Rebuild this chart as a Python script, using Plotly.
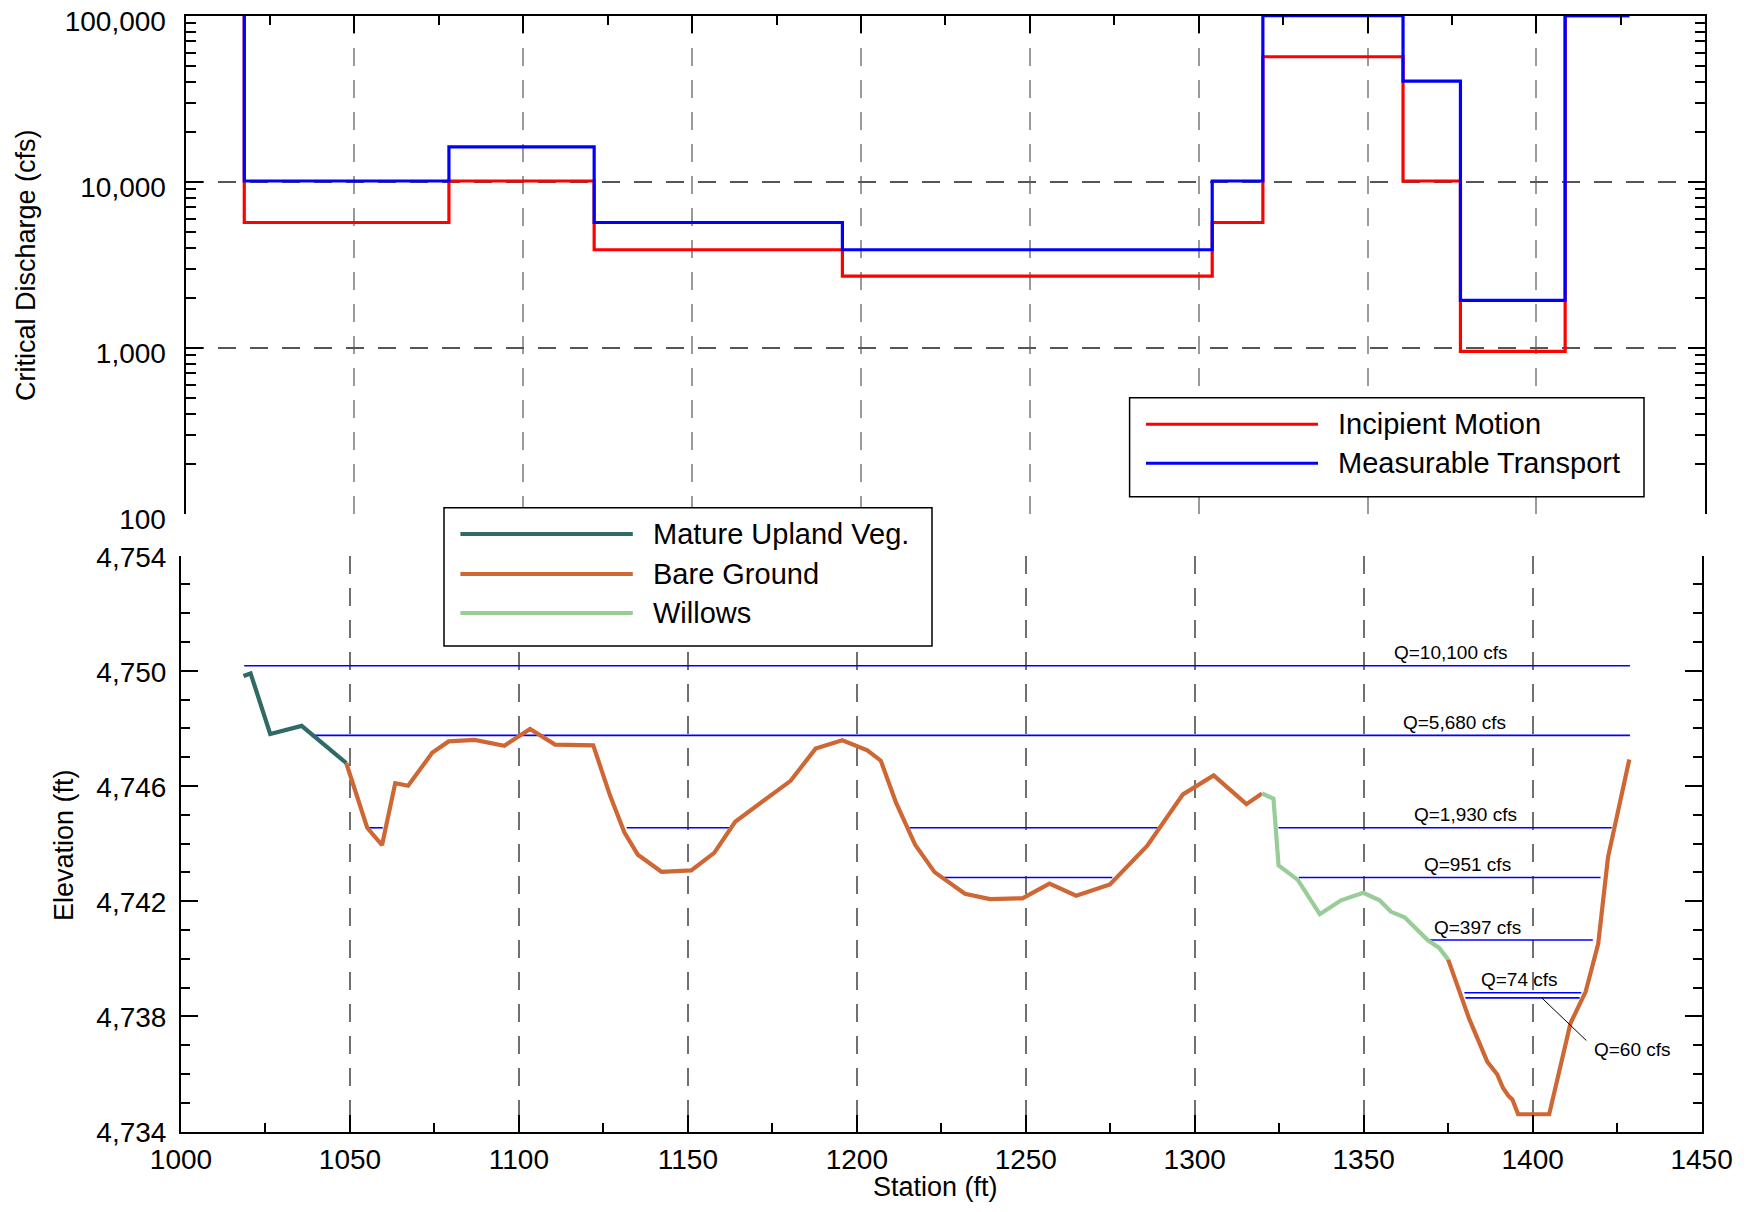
import plotly.graph_objects as go

# ---------------- DATA ----------------
# Top panel: critical discharge steps along station
step_edges = [1017.4, 1078.0, 1121.0, 1194.5, 1304.0, 1319.0, 1360.5, 1377.5, 1408.5, 1427.5]
step_start_q = 100000
incipient_q = [5680, 10100, 3890, 2700, 5680, 56600, 10100, 951, 100000]
measurable_q = [10100, 16200, 5680, 3890, 10100, 100000, 40400, 1930, 100000]

# Bottom panel: ground profile by cover type
upland_x = [1018.5, 1020.6, 1026.4, 1035.7, 1048.9]
upland_y = [4749.82, 4749.91, 4747.81, 4748.09, 4746.80]

bare1_x = [1048.9, 1055.1, 1059.5, 1063.4, 1067.2, 1074.4, 1079.2, 1086.9, 1095.7, 1103.3,
           1110.7, 1122.0, 1127.0, 1131.2, 1135.2, 1142.2, 1151.0, 1157.8, 1164.0, 1180.4,
           1187.8, 1195.7, 1203.1, 1207.1, 1211.6, 1217.3, 1223.0, 1232.0, 1239.4, 1249.0,
           1257.0, 1264.9, 1274.9, 1285.9, 1296.5, 1305.6, 1315.3, 1319.9]
bare1_y = [4746.80, 4744.55, 4743.95, 4746.10, 4746.01, 4747.16, 4747.55, 4747.60, 4747.40, 4747.98,
           4747.44, 4747.41, 4745.66, 4744.39, 4743.61, 4743.02, 4743.07, 4743.68, 4744.76, 4746.18,
           4747.30, 4747.59, 4747.24, 4746.88, 4745.42, 4743.95, 4743.01, 4742.26, 4742.07, 4742.10,
           4742.61, 4742.19, 4742.58, 4743.92, 4745.71, 4746.37, 4745.37, 4745.74]

willow_x = [1319.9, 1323.3, 1324.8, 1330.5, 1337.0, 1343.3, 1349.9, 1354.7, 1358.1, 1362.1,
            1369.0, 1372.4, 1375.0]
willow_y = [4745.74, 4745.56, 4743.24, 4742.74, 4741.55, 4742.03, 4742.29, 4742.03, 4741.63, 4741.44,
            4740.64, 4740.37, 4739.97]

bare2_x = [1375.0, 1381.2, 1386.6, 1389.5, 1391.2, 1392.9, 1394.0, 1395.7, 1404.9, 1411.2,
           1415.7, 1419.4, 1422.3, 1428.6]
bare2_y = [4739.97, 4737.92, 4736.42, 4735.99, 4735.52, 4735.23, 4735.11, 4734.60, 4734.60, 4737.76,
           4738.86, 4740.52, 4743.52, 4746.92]

# Water-surface elevations for discharges
ws_labels = ["Q=10,100 cfs", "Q=5,680 cfs", "Q=1,930 cfs", "Q=951 cfs", "Q=397 cfs", "Q=74 cfs", "Q=60 cfs"]
ws_elev = [4750.18, 4747.76, 4744.55, 4742.82, 4740.65, 4738.82, 4738.64]
ws_segments = [
    [(1018.7, 1428.8)],
    [(1039.3, 1428.8)],
    [(1055.1, 1059.7), (1131.9, 1162.2), (1215.6, 1289.4), (1324.8, 1423.4)],
    [(1225.8, 1275.6), (1330.8, 1420.1)],
    [(1369.5, 1417.8)],
    [(1379.8, 1414.4)],
    [(1380.1, 1413.9)],
]
ws_label_station = [1375.9, 1376.8, 1380.1, 1380.7, 1383.8, 1396.2, 1429.5]

top_legend = ["Incipient Motion", "Measurable Transport"]
bottom_legend = ["Mature Upland Veg.", "Bare Ground", "Willows"]

# ---------------- STYLE / LAYOUT ----------------
W, H = 1738, 1196
OFF = 8
FONT = "Liberation Sans, Arial, Helvetica, sans-serif"


def px(x):
    return (x - OFF) / W


def py(y):
    return 1 - (y - OFF) / H


RED = "#FF0000"
BLUE = "#0000FF"
TEAL = "#2F6A66"
ORANGE = "#CF6735"
GREEN = "#98CD98"

fig = go.Figure()

# top panel steps
for qs, col, name in [(incipient_q, RED, top_legend[0]), (measurable_q, BLUE, top_legend[1])]:
    xs = [step_edges[0]] + step_edges
    ys = [step_start_q] + qs + [qs[-1]]
    fig.add_trace(go.Scatter(x=xs, y=ys, mode="lines", line=dict(color=col, width=3.2, shape="hv"),
                             name=name, xaxis="x", yaxis="y", showlegend=False))

# water surface lines
for lab, el, segs in zip(ws_labels, ws_elev, ws_segments):
    xs, ys = [], []
    for a, b in segs:
        xs += [a, b, None]
        ys += [el, el, None]
    fig.add_trace(go.Scatter(x=xs, y=ys, mode="lines", line=dict(color=BLUE, width=1.6),
                             name=lab, xaxis="x2", yaxis="y2", showlegend=False))

# profile
for xs, ys, col in [(upland_x, upland_y, TEAL), (bare1_x, bare1_y, ORANGE),
                    (willow_x, willow_y, GREEN), (bare2_x, bare2_y, ORANGE)]:
    fig.add_trace(go.Scatter(x=xs, y=ys, mode="lines", line=dict(color=col, width=4.2),
                             xaxis="x2", yaxis="y2", showlegend=False))

tickfont = dict(family=FONT, size=28, color="black")
common_line = dict(showline=True, linecolor="black", linewidth=2, ticks="inside", tickwidth=2,
                   tickcolor="black", zeroline=False, automargin=False)

fig.update_layout(
    template="none",
    width=W, height=H, autosize=False,
    margin=dict(l=0, r=0, t=0, b=0),
    paper_bgcolor="white", plot_bgcolor="white",
    font=dict(family=FONT, color="black"),
    xaxis=dict(domain=[px(185.5), px(1705.3)], range=[1000, 1450], anchor="y", side="top",
               dtick=50, tick0=1000, ticklen=17, showticklabels=False,
               showgrid=True, gridcolor="#9a9a9a", gridwidth=1.5, griddash="18px,14px",
               minor=dict(dtick=25, tick0=1000, ticks="inside", ticklen=9, tickwidth=1.5,
                          tickcolor="black", showgrid=False),
               **common_line),
    yaxis=dict(domain=[py(513.7), py(15.7)], type="log", range=[1.99999, 5.00001], anchor="x",
               mirror="ticks", dtick=1, tickformat=",d", ticklen=17, tickfont=tickfont,
               ticklabelstandoff=12, ticklabelshift=5, ticklabeloverflow="allow",
               showgrid=True, gridcolor="#555555", gridwidth=1.5, griddash="18px,14px",
               minor=dict(dtick="D1", ticks="inside", ticklen=10, tickwidth=1.5,
                          tickcolor="black", showgrid=False),
               **common_line),
    xaxis2=dict(domain=[px(181.0), px(1701.6)], range=[1000, 1450], anchor="y2",
                dtick=50, tick0=1000, ticklen=17, tickfont=tickfont, ticklabelstandoff=2,
                showgrid=True, gridcolor="#707070", gridwidth=1.5, griddash="18px,14px",
                minor=dict(dtick=25, tick0=1000, ticks="inside", ticklen=9, tickwidth=1.5,
                           tickcolor="black", showgrid=False),
                **common_line),
    yaxis2=dict(domain=[py(1131.5), py(555.7)], range=[4734, 4754], anchor="x2",
                mirror="ticks", dtick=4, tick0=4734, tickformat=",d", ticklen=17,
                tickfont=tickfont, ticklabelstandoff=7, ticklabelshift=1, showgrid=False,
                minor=dict(dtick=1, ticks="inside", ticklen=9, tickwidth=1.5,
                           tickcolor="black", showgrid=False),
                **common_line),
)

shapes = []
annotations = []

# Q labels
for i, (lab, el, st) in enumerate(zip(ws_labels, ws_elev, ws_label_station)):
    if i < len(ws_labels) - 1:
        annotations.append(dict(x=st, y=el, xref="x2", yref="y2", text=lab, showarrow=False,
                                xanchor="center", yanchor="middle",
                                yshift=13, font=dict(family=FONT, size=19, color="black")))
    else:
        annotations.append(dict(x=st, y=4736.86, xref="x2", yref="y2", text=lab, showarrow=False,
                                xanchor="center", yanchor="middle",
                                font=dict(family=FONT, size=19, color="black")))
        shapes.append(dict(type="line", xref="x2", yref="y2", x0=1402.7, y0=el, x1=1415.9, y1=4737.16,
                           line=dict(color="black", width=1)))

# axis titles
annotations.append(dict(x=px(26), y=py(265), xref="paper", yref="paper", text="Critical Discharge (cfs)",
                        textangle=-90, showarrow=False, xanchor="center", yanchor="middle",
                        font=dict(family=FONT, size=27)))
annotations.append(dict(x=px(64), y=py(845), xref="paper", yref="paper", text="Elevation (ft)",
                        textangle=-90, showarrow=False, xanchor="center", yanchor="middle",
                        font=dict(family=FONT, size=27)))
annotations.append(dict(x=px(936), y=py(1187), xref="paper", yref="paper", text="Station (ft)",
                        showarrow=False, xanchor="center", yanchor="middle",
                        font=dict(family=FONT, size=27)))

# top legend
shapes.append(dict(type="rect", xref="paper", yref="paper", x0=px(1129.6), x1=px(1644),
                   y0=py(496.7), y1=py(397.7), fillcolor="white", line=dict(color="black", width=1.5),
                   layer="above"))
for name, col, yy in [(top_legend[0], RED, 424.3), (top_legend[1], BLUE, 463.3)]:
    shapes.append(dict(type="line", xref="paper", yref="paper", x0=px(1146), x1=px(1318),
                       y0=py(yy), y1=py(yy), line=dict(color=col, width=3), layer="above"))
    annotations.append(dict(x=px(1336), y=py(yy), xref="paper", yref="paper", text=name,
                            xanchor="left", yanchor="middle", showarrow=False,
                            font=dict(family=FONT, size=29)))

# bottom legend
shapes.append(dict(type="rect", xref="paper", yref="paper", x0=px(444), x1=px(932),
                   y0=py(646), y1=py(507.8), fillcolor="white", line=dict(color="black", width=1.5),
                   layer="above"))
for name, col, yy in [(bottom_legend[0], TEAL, 534), (bottom_legend[1], ORANGE, 574),
                      (bottom_legend[2], GREEN, 613)]:
    shapes.append(dict(type="line", xref="paper", yref="paper", x0=px(460.4), x1=px(632.8),
                       y0=py(yy), y1=py(yy), line=dict(color=col, width=4), layer="above"))
    annotations.append(dict(x=px(650.8), y=py(yy), xref="paper", yref="paper", text=name,
                            xanchor="left", yanchor="middle", showarrow=False,
                            font=dict(family=FONT, size=29)))

fig.update_layout(shapes=shapes, annotations=annotations)

fig.write_html("out.html")
